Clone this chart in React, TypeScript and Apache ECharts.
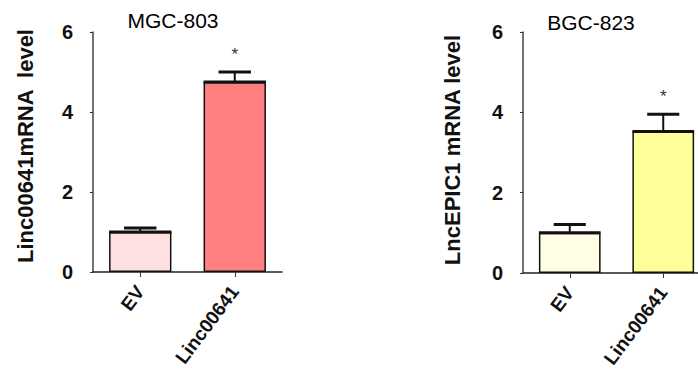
import React, { useEffect, useRef } from "react";
import * as echarts from "echarts";

const categories = ["EV", "Linc00641"];
const mgcMeans = [1.0, 4.75];
const mgcErrors = [0.1, 0.25];
const mgcSignif = ["", "*"];
const bgcMeans = [1.0, 3.52];
const bgcErrors = [0.21, 0.43];
const bgcSignif = ["", "*"];
const mgcColors = ["#FFE0E1", "#FF7F7F"];
const bgcColors = ["#FFFDE3", "#FFFF99"];
const yMin = 0;
const yMax = 6;
const yInterval = 2;

const BAR_FRAC = 0.66;
const FONT = "'Liberation Sans', Arial, sans-serif";

function makeErrRenderer(signif: string[]) {
  return (params: any, api: any) => {
    const x = api.value(0);
    const m = api.value(1);
    const e = api.value(2);
    const base = api.coord([x, m]);
    const top = api.coord([x, m + e]);
    const band = api.size([1, 0])[0];
    const bw = band * BAR_FRAC;
    const cap = bw * 0.52;
    const children: any[] = [
      { type: "line", shape: { x1: base[0] - bw / 2, y1: base[1], x2: base[0] + bw / 2, y2: base[1] }, style: { stroke: "#111", lineWidth: 3 } },
      { type: "line", shape: { x1: base[0], y1: base[1], x2: top[0], y2: top[1] }, style: { stroke: "#111", lineWidth: 2 } },
      { type: "line", shape: { x1: top[0] - cap / 2, y1: top[1], x2: top[0] + cap / 2, y2: top[1] }, style: { stroke: "#111", lineWidth: 3 } },
    ];
    const s = signif[params.dataIndex];
    if (s) {
      children.push({
        type: "text",
        x: top[0],
        y: top[1] - 26,
        style: { text: s, align: "center", verticalAlign: "top", fontSize: 17, fontFamily: FONT, fill: "#333" },
      });
    }
    return { type: "group", children };
  };
}

function axisPair(gridIndex: number) {
  const x = {
    type: "category",
    gridIndex,
    data: categories,
    axisLine: { lineStyle: { color: "#222", width: 1.5 } },
    axisTick: { show: true, alignWithLabel: true, length: 5, lineStyle: { color: "#333", width: 1 } },
    axisLabel: {
      rotate: 53,
      margin: 16,
      fontSize: 19,
      fontWeight: "bold",
      fontFamily: FONT,
      color: "#111",
      interval: 0,
    },
  };
  const y = {
    type: "value",
    gridIndex,
    min: yMin,
    max: yMax,
    interval: yInterval,
    axisLine: { show: true, lineStyle: { color: "#444", width: 1.5 } },
    axisTick: { show: true, length: 3, lineStyle: { color: "#333" } },
    splitLine: { show: false },
    axisLabel: { margin: 20, fontSize: 20, fontWeight: "bold", fontFamily: FONT, color: "#111" },
  };
  return { x, y };
}

export default function App() {
  const ref = useRef<HTMLDivElement>(null);
  useEffect(() => {
    if (!ref.current) return;
    const chart = echarts.init(ref.current, null, { renderer: "svg" });
    const a0 = axisPair(0);
    const a1 = axisPair(1);
    const option: any = {
      animation: false,
      backgroundColor: "#fff",
      grid: [
        { left: 93, top: 32, width: 189, height: 240 },
        { left: 523, top: 32, width: 187, height: 241 },
      ],
      xAxis: [a0.x, a1.x],
      yAxis: [a0.y, a1.y],
      graphic: [
        { type: "text", x: 173, y: 20, style: { text: "MGC-803", align: "center", verticalAlign: "middle", fontSize: 21, fontFamily: FONT, fill: "#000" } },
        { type: "text", x: 591, y: 22, style: { text: "BGC-823", align: "center", verticalAlign: "middle", fontSize: 21, fontFamily: FONT, fill: "#000" } },
        { type: "text", x: 25, y: 146, rotation: Math.PI / 2, style: { text: "Linc00641mRNA  level", align: "center", verticalAlign: "middle", fontSize: 22, fontWeight: "bold", fontFamily: FONT, fill: "#111" } },
        { type: "text", x: 452, y: 150, rotation: Math.PI / 2, style: { text: "LncEPIC1 mRNA level", align: "center", verticalAlign: "middle", fontSize: 22, fontWeight: "bold", fontFamily: FONT, fill: "#111" } },
      ],
      series: [
        {
          type: "bar",
          xAxisIndex: 0,
          yAxisIndex: 0,
          barWidth: (BAR_FRAC * 100).toFixed(1) + "%",
          data: mgcMeans.map((v, i) => ({ value: v, itemStyle: { color: mgcColors[i], borderColor: "#111", borderWidth: 1.5 } })),
        },
        {
          type: "bar",
          xAxisIndex: 1,
          yAxisIndex: 1,
          barWidth: (BAR_FRAC * 100).toFixed(1) + "%",
          data: bgcMeans.map((v, i) => ({ value: v, itemStyle: { color: bgcColors[i], borderColor: "#111", borderWidth: 1.5 } })),
        },
        {
          type: "custom",
          xAxisIndex: 0,
          yAxisIndex: 0,
          renderItem: makeErrRenderer(mgcSignif),
          data: mgcMeans.map((v, i) => [i, v, mgcErrors[i]]),
          z: 5,
        },
        {
          type: "custom",
          xAxisIndex: 1,
          yAxisIndex: 1,
          renderItem: makeErrRenderer(bgcSignif),
          data: bgcMeans.map((v, i) => [i, v, bgcErrors[i]]),
          z: 5,
        },
      ],
    };
    chart.setOption(option);
    return () => chart.dispose();
  }, []);
  return (
    <div style={{ position: "fixed", left: 0, top: 0, width: 698, height: 391, overflow: "hidden", background: "#fff" }}>
      <div ref={ref} style={{ width: 720, height: 391 }} />
    </div>
  );
}
